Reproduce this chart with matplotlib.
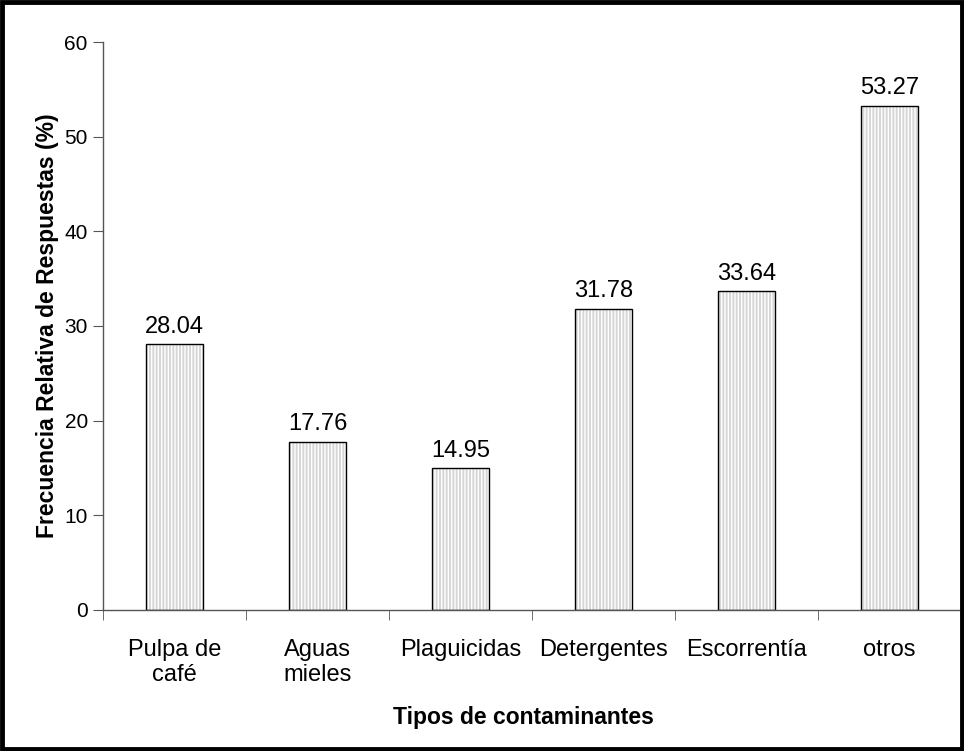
import numpy as np
import matplotlib.pyplot as plt
from matplotlib.patches import Rectangle

plt.rcParams['font.family'] = ['Liberation Sans', 'DejaVu Sans']

# Datos
categorias = ['Pulpa de\ncafé', 'Aguas\nmieles', 'Plaguicidas', 'Detergentes', 'Escorrentía', 'otros']
frecuencia = [28.04, 17.76, 14.95, 31.78, 33.64, 53.27]

fig = plt.figure(figsize=(9.64, 7.51), dpi=100)
ax = fig.add_axes([0.107, 0.188, 0.89, 0.756])

x = np.arange(len(categorias))
# relleno con rayas verticales blancas
ax.bar(x, frecuencia, width=0.4, color='#d6d6d6', edgecolor='white', hatch='|||||', linewidth=0)
# borde negro
ax.bar(x, frecuencia, width=0.4, fill=False, edgecolor='black', linewidth=1.0)

for xi, v in zip(x, frecuencia):
    ax.text(xi, v + 0.7, f'{v:.2f}', ha='center', va='bottom', fontsize=17)

ax.set_xlim(-0.5, len(categorias) - 0.5)
ax.set_ylim(0, 60)
ax.set_yticks(np.arange(0, 61, 10))
ax.set_xticks(x)
ax.set_xticklabels(categorias, fontsize=17, linespacing=1.2)
ax.set_xticks(np.arange(-0.5, len(categorias), 1), minor=True)
ax.tick_params(axis='x', which='major', length=0, pad=21)
ax.tick_params(axis='x', which='minor', length=7, color='#555555', direction='out')
ax.tick_params(axis='y', length=7, color='#555555', labelsize=15, pad=4)

for s in ['top', 'right']:
    ax.spines[s].set_visible(False)
for s in ['left', 'bottom']:
    ax.spines[s].set_color('#555555')
    ax.spines[s].set_linewidth(1.0)

ax.set_xlabel('Tipos de contaminantes', fontsize=16.5, fontweight='bold')
ax.xaxis.set_label_coords(0.49, -0.17)
ax.set_ylabel('Frecuencia Relativa de Respuestas (%)', fontsize=16.5, fontweight='bold')
ax.yaxis.set_label_coords(-0.052, 0.5)

# marco negro de la figura
fig.patches.append(Rectangle((0.002, 0.002), 0.996, 0.996, transform=fig.transFigure,
                             fill=False, edgecolor='black', linewidth=3.5))

fig.savefig('out.png', dpi=100)
